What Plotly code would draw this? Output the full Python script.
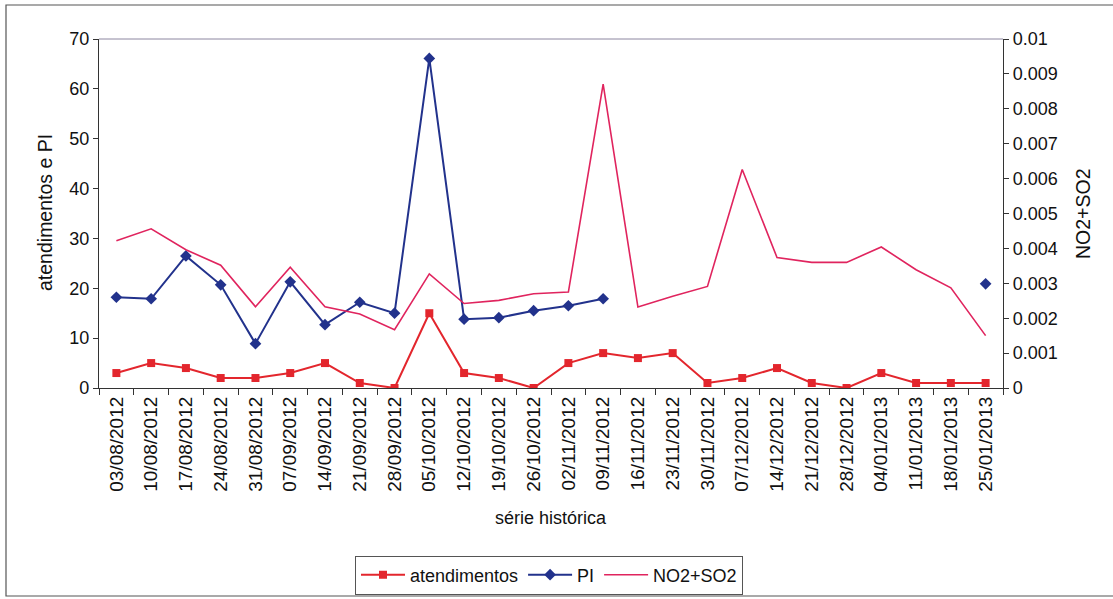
import plotly.graph_objects as go

# weekly series (Aug 2012 - Jan 2013)
datas = [
    "03/08/2012", "10/08/2012", "17/08/2012", "24/08/2012", "31/08/2012",
    "07/09/2012", "14/09/2012", "21/09/2012", "28/09/2012", "05/10/2012",
    "12/10/2012", "19/10/2012", "26/10/2012", "02/11/2012", "09/11/2012",
    "16/11/2012", "23/11/2012", "30/11/2012", "07/12/2012", "14/12/2012",
    "21/12/2012", "28/12/2012", "04/01/2013", "11/01/2013", "18/01/2013",
    "25/01/2013",
]

atendimentos = [3, 5, 4, 2, 2, 3, 5, 1, 0, 15, 3, 2, 0, 5, 7, 6, 7, 1, 2, 4,
                1, 0, 3, 1, 1, 1]

pi = [18.2, 17.9, 26.5, 20.7, 8.9, 21.3, 12.7, 17.2, 15.0, 66.1, 13.8, 14.1,
      15.5, 16.5, 17.9, None, None, None, None, None, None, None, None, None,
      None, 20.9]

no2_so2 = [0.00422, 0.00456, 0.00396, 0.00352, 0.00233, 0.00346, 0.00233,
           0.00212, 0.00167, 0.00327, 0.00242, 0.00251, 0.00270, 0.00275,
           0.00871, 0.00232, 0.00263, 0.00291, 0.00626, 0.00374, 0.00360,
           0.00360, 0.00404, 0.00339, 0.00287, 0.00150]

FONT = "Liberation Sans, Arial, sans-serif"
AXIS_COLOR = "#333333"

fig = go.Figure()

fig.add_trace(go.Scatter(
    x=datas, y=atendimentos, name="atendimentos", mode="lines+markers",
    line=dict(color="#e3262d", width=2),
    marker=dict(symbol="square", size=8, color="#e3262d"),
))
fig.add_trace(go.Scatter(
    x=datas, y=pi, name="PI", mode="lines+markers", connectgaps=False,
    line=dict(color="#22328c", width=2),
    marker=dict(symbol="diamond", size=9, color="#22328c"),
))
fig.add_trace(go.Scatter(
    x=datas, y=no2_so2, name="NO2+SO2", mode="lines", yaxis="y2",
    line=dict(color="#e0245e", width=1.6),
))

# plot-area pixel frame: left 99, right 1003, top 39, bottom 388 (1113 x 599 page)
W, H = 1113, 599
L, R, T, B = 99, 1003, 39, 388


def px_x(p):
    return (p - L) / (R - L)


def px_y(p):
    return (B - p) / (B - T)


fig.update_layout(
    width=W, height=H,
    margin=dict(l=L, r=W - R, t=T, b=H - B, autoexpand=False),
    paper_bgcolor="white", plot_bgcolor="white",
    font=dict(family=FONT, size=18, color="#111111"),
    xaxis=dict(
        type="category", tickangle=-90, tickson="boundaries",
        ticks="outside", ticklen=6, tickcolor=AXIS_COLOR,
        showline=True, linecolor=AXIS_COLOR, linewidth=1.2,
        showgrid=False, zeroline=False, automargin=False,
        range=[-0.5, len(datas) - 0.5],
        tickfont=dict(size=19),
    ),
    yaxis=dict(
        range=[0, 70], dtick=10, ticks="outside", ticklen=5,
        tickcolor=AXIS_COLOR, showline=True, linecolor=AXIS_COLOR,
        linewidth=1.2, showgrid=False, zeroline=False, automargin=False,
        tickfont=dict(size=18),
    ),
    yaxis2=dict(
        range=[0, 0.01], dtick=0.001, tickformat="~g", overlaying="y",
        side="right", ticks="outside", ticklen=5, tickcolor=AXIS_COLOR,
        showline=True, linecolor=AXIS_COLOR, linewidth=1.2,
        showgrid=False, zeroline=False, automargin=False,
        tickfont=dict(size=18),
    ),
    legend=dict(
        orientation="h", x=px_x(549), y=px_y(575), xanchor="center",
        yanchor="middle", bordercolor="#555555", borderwidth=1,
        bgcolor="white", font=dict(size=18), itemwidth=44,
        tracegroupgap=0,
    ),
    showlegend=True,
)

# axis titles
fig.add_annotation(text="atendimentos e PI", textangle=-90, x=px_x(45),
                   y=px_y(213), xref="paper", yref="paper", showarrow=False,
                   xanchor="center", yanchor="middle", font=dict(size=19.5))
fig.add_annotation(text="NO2+SO2", textangle=-90, x=px_x(1083), y=px_y(214),
                   xref="paper", yref="paper", showarrow=False,
                   xanchor="center", yanchor="middle", font=dict(size=19.5))
fig.add_annotation(text="série histórica", x=px_x(551), y=px_y(518),
                   xref="paper", yref="paper", showarrow=False,
                   xanchor="center", yanchor="middle", font=dict(size=18))

# top border of the plot area
fig.add_shape(type="line", xref="paper", yref="paper", x0=0, x1=1, y0=1, y1=1,
              line=dict(color="#8c86a0", width=1))
# outer chart frame
fig.add_shape(type="rect", xref="paper", yref="paper",
              x0=px_x(6), x1=px_x(1130), y0=px_y(596), y1=px_y(5),
              line=dict(color="#555555", width=1.2), layer="below")

fig.write_html("out.html")
